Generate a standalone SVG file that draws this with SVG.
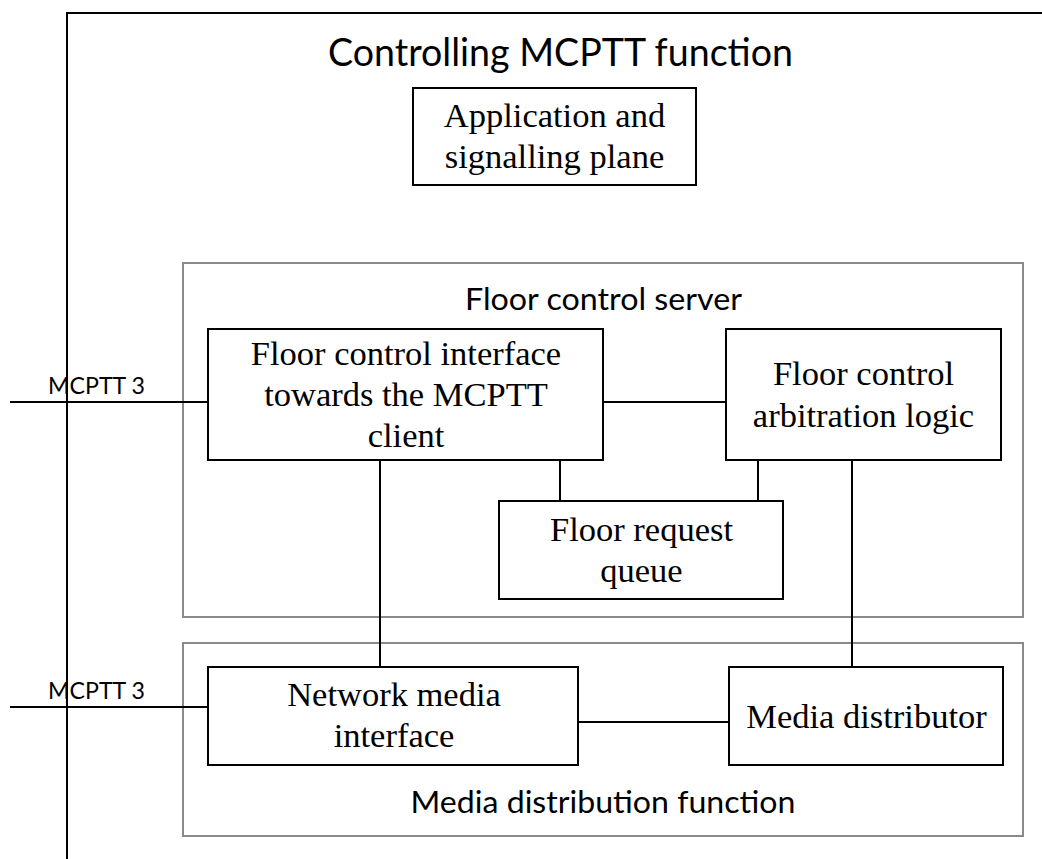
<svg xmlns="http://www.w3.org/2000/svg" width="1042" height="859" viewBox="0 0 1042 859">
<style>
.bg{fill:#ffffff}
.frame{fill:none;stroke:#000;stroke-width:2}
.grp{fill:none;stroke:#8a8a8a;stroke-width:2}
.box{fill:#fff;stroke:#000;stroke-width:2}
.conn{fill:none;stroke:#000;stroke-width:2}
.serif{font-family:"Liberation Serif","Times New Roman",serif;font-size:34.5px;fill:#000;text-anchor:middle}
.sans{font-family:Lato,"Liberation Sans",sans-serif;fill:#000}
</style>
<rect class="bg" x="0" y="0" width="1042" height="859"/>
<g id="controlling-mcptt-function">
  <path class="frame" d="M67,859 V13 H1042"/>
  <text class="sans" x="560.5" y="66" font-size="38" text-anchor="middle" textLength="465" lengthAdjust="spacingAndGlyphs">Controlling MCPTT function</text>
</g>
<g id="floor-control-server">
  <rect class="grp" x="183" y="263" width="840" height="354"/>
  <text class="sans" x="603.5" y="310" font-size="31.5" text-anchor="middle" textLength="277" lengthAdjust="spacingAndGlyphs">Floor control server</text>
</g>
<g id="media-distribution-function">
  <rect class="grp" x="183" y="643" width="840" height="193"/>
  <text class="sans" x="603" y="813" font-size="31.5" text-anchor="middle" textLength="385" lengthAdjust="spacingAndGlyphs">Media distribution function</text>
</g>
<g id="connectors">
  <line class="conn" x1="10" y1="402" x2="208" y2="402"/>
  <line class="conn" x1="10" y1="707" x2="208" y2="707"/>
  <line class="conn" x1="603" y1="402" x2="726" y2="402"/>
  <line class="conn" x1="560" y1="460" x2="560" y2="501"/>
  <line class="conn" x1="758" y1="460" x2="758" y2="501"/>
  <line class="conn" x1="380" y1="460" x2="380" y2="667"/>
  <line class="conn" x1="852" y1="460" x2="852" y2="667"/>
  <line class="conn" x1="578" y1="722" x2="729" y2="722"/>
  <text class="sans" x="48" y="393.5" font-size="23" textLength="97" lengthAdjust="spacingAndGlyphs">MCPTT 3</text>
  <text class="sans" x="48" y="699" font-size="23" textLength="97" lengthAdjust="spacingAndGlyphs">MCPTT 3</text>
</g>
<g id="application-signalling-plane">
  <rect class="box" x="413" y="88" width="283" height="97"/>
  <text class="serif" x="554.5" y="127">Application and</text>
  <text class="serif" x="554.5" y="168">signalling plane</text>
</g>
<g id="floor-control-interface">
  <rect class="box" x="208" y="329" width="395" height="131"/>
  <text class="serif" x="406" y="365">Floor control interface</text>
  <text class="serif" x="406" y="406">towards the MCPTT</text>
  <text class="serif" x="406" y="447">client</text>
</g>
<g id="floor-control-arbitration-logic">
  <rect class="box" x="726" y="329" width="275" height="131"/>
  <text class="serif" x="863.5" y="385">Floor control</text>
  <text class="serif" x="863.5" y="426.5">arbitration logic</text>
</g>
<g id="floor-request-queue">
  <rect class="box" x="499" y="501" width="284" height="98"/>
  <text class="serif" x="641.5" y="541">Floor request</text>
  <text class="serif" x="641.5" y="582">queue</text>
</g>
<g id="network-media-interface">
  <rect class="box" x="208" y="667" width="370" height="98"/>
  <text class="serif" x="394" y="706">Network media</text>
  <text class="serif" x="394" y="747">interface</text>
</g>
<g id="media-distributor">
  <rect class="box" x="729" y="667" width="274" height="98"/>
  <text class="serif" x="866.5" y="728">Media distributor</text>
</g>
</svg>
